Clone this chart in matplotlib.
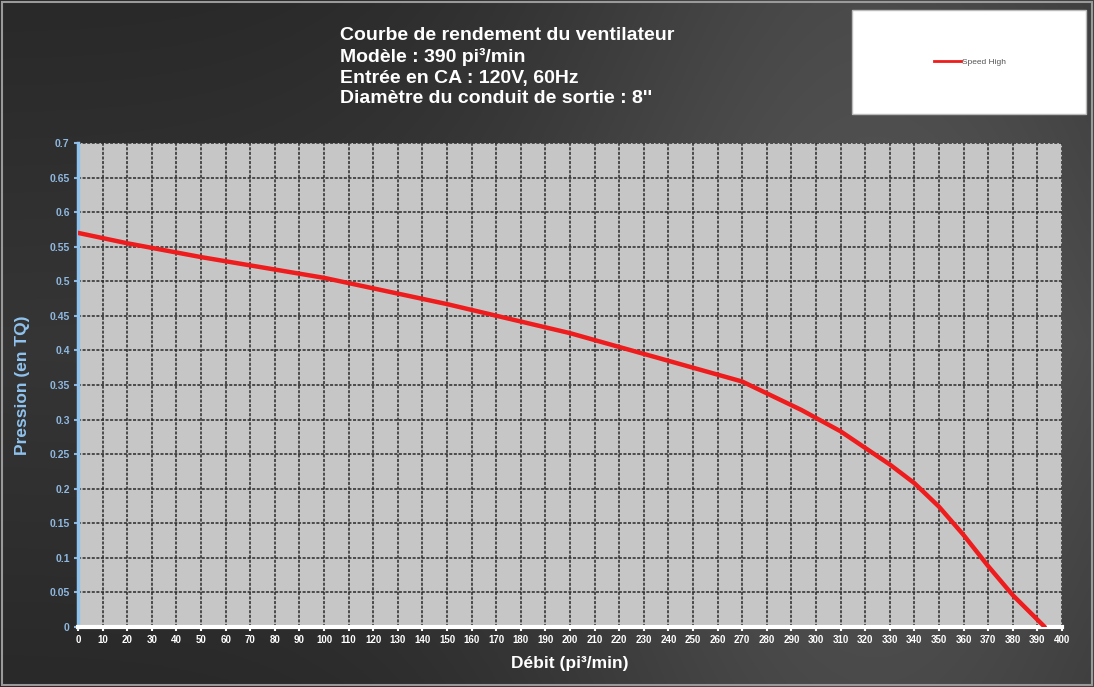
import numpy as np
import matplotlib
matplotlib.use("Agg")
import matplotlib.pyplot as plt
from matplotlib.patches import Rectangle
from matplotlib.lines import Line2D

# Fan performance curve: airflow (cfm) vs static pressure (inches of water)
flow = [0, 20, 50, 100, 150, 200, 250, 270, 294, 310, 320, 330, 340, 350, 360, 370, 380, 393]
pressure = [0.57, 0.555, 0.535, 0.505, 0.467, 0.425, 0.375, 0.355, 0.314, 0.283, 0.259, 0.235, 0.208, 0.174, 0.133, 0.088, 0.046, 0.0]

x_ticks = list(range(0, 401, 10))
y_ticks = [0, 0.05, 0.1, 0.15, 0.2, 0.25, 0.3, 0.35, 0.4, 0.45, 0.5, 0.55, 0.6, 0.65, 0.7]

title_lines = [
    "Courbe de rendement du ventilateur",
    "Modèle : 390 pi³/min",
    "Entrée en CA : 120V, 60Hz",
    "Diamètre du conduit de sortie : 8''",
]
series_name = "Speed High"

plt.rcParams["font.family"] = ["Liberation Sans", "DejaVu Sans"]

W, H = 1094, 687
fig = plt.figure(figsize=(W / 100, H / 100), dpi=100)

# Dark gradient backdrop
bg = fig.add_axes([0, 0, 1, 1], zorder=-10)
gx = np.linspace(0, 1, 400)
gy = np.linspace(0, 1, 250)
X, Y = np.meshgrid(gx, gy)
shade = 0.16 + 0.13 * np.exp(-((X - 0.8) ** 2) / 0.10) + 0.05 * (1 - np.abs(Y - 0.5) * 2)
shade = np.clip(shade, 0, 1)
bg.imshow(np.dstack([shade, shade, shade]), extent=[0, 1, 0, 1], aspect="auto", origin="lower")
bg.set_xlim(0, 1)
bg.set_ylim(0, 1)
bg.axis("off")
# thin light frame around the figure
bg.add_patch(Rectangle((0.002, 0.003), 0.996, 0.994, fill=False, edgecolor="#9a9a9a", linewidth=1.5,
                       transform=bg.transAxes))

ax = fig.add_axes([78 / W, 1 - 627 / H, (1062 - 78) / W, (627 - 143) / H])
ax.set_facecolor("#c6c6c6")
ax.plot(flow, pressure, color="#ee1c1c", linewidth=3.2, solid_capstyle="round", zorder=5,
        label=series_name)

ax.set_xlim(0, 400)
ax.set_ylim(0, 0.7)
ax.set_xticks(x_ticks)
ax.set_yticks(y_ticks)
ax.set_xticklabels([str(v) for v in x_ticks])
ax.set_yticklabels([f"{v:g}" for v in y_ticks])
ax.grid(True, color="#2a2a2a", linestyle=(0, (2, 1)), linewidth=1.1, zorder=1)
ax.set_axisbelow(True)

for s in ("top", "right"):
    ax.spines[s].set_visible(False)
ax.spines["left"].set_color("#8fc3ee")
ax.spines["left"].set_linewidth(2.5)
ax.spines["bottom"].set_color("white")
ax.spines["bottom"].set_linewidth(3)

ax.tick_params(axis="x", colors="white", labelsize=7, length=3, width=1.5, pad=3)
ax.tick_params(axis="y", colors="#8fb8e0", labelsize=7.5, length=3, width=1.5, pad=3)
for lbl in ax.get_xticklabels():
    lbl.set_fontweight("bold")
    lbl.set_color("white")
for lbl in ax.get_yticklabels():
    lbl.set_fontweight("bold")
    lbl.set_color("#8fb8e0")

ax.set_xlabel("Débit (pi³/min)", color="white", fontsize=12.5, fontweight="bold", labelpad=8)
ax.set_ylabel("Pression (en TQ)", color="#8fc3ee", fontsize=12.5, fontweight="bold", labelpad=14)

# Title block
fig.text(340 / W, 1 - 27 / H, "\n".join(title_lines), color="white", fontsize=14,
         fontweight="bold", ha="left", va="top", linespacing=1.28)

# Legend box
fig.patches.append(Rectangle((852 / W, 1 - 114 / H), (1086 - 852) / W, (114 - 10) / H,
                             transform=fig.transFigure, facecolor="white", edgecolor="#bbbbbb",
                             linewidth=1, zorder=1))
handle = Line2D([], [], color="#ee1c1c", linewidth=2)
fig.legend([handle], [series_name], loc="center", bbox_to_anchor=(970 / W, 1 - 62 / H),
           frameon=False, fontsize=6, handlelength=3.2, handletextpad=0.15,
           labelcolor="#555555")

fig.savefig("out.png", dpi=100)
